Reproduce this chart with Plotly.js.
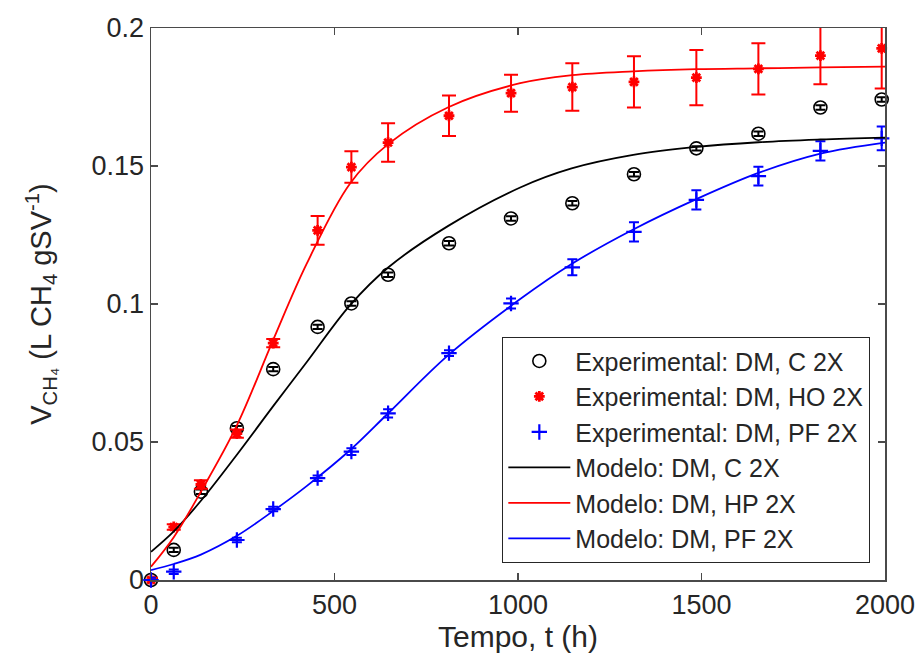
<!DOCTYPE html>
<html>
<head>
<meta charset="utf-8">
<script src="https://cdn.plot.ly/plotly-3.0.1.min.js"></script>
<style>
  html, body { margin: 0; padding: 0; background: #fff; }
  #chart { width: 922px; height: 662px; }
</style>
</head>
<body>
<div id="chart"></div>
<script>
// Sampling times of the batch measurements (h)
const expTime = [0, 62, 136, 234, 333, 454, 546, 646, 812, 981, 1148, 1316, 1486, 1655, 1824, 1991];

// Cumulative methane yield, L CH4 per g SV
const expC  = [0, 0.0109, 0.032, 0.055, 0.0764, 0.0917, 0.1002, 0.1106, 0.122, 0.131, 0.1365, 0.147, 0.1564, 0.1617, 0.1712, 0.1741];
const errC  = [0.0008, 0.0008, 0.0008, 0.0008, 0.0008, 0.0008, 0.0008, 0.0008, 0.0008, 0.0008, 0.0008, 0.0008, 0.0008, 0.0008, 0.0008, 0.0008];

const expHO = [0, 0.0192, 0.0346, 0.053, 0.0858, 0.1267, 0.1496, 0.1585, 0.1682, 0.1764, 0.1786, 0.1805, 0.182, 0.1852, 0.190, 0.1926];
const errHO = [0.0008, 0.001, 0.0015, 0.0015, 0.0015, 0.0052, 0.0057, 0.007, 0.0073, 0.0067, 0.0086, 0.0093, 0.010, 0.0093, 0.0104, 0.0145];

const expPF = [0, 0.003, null, 0.0145, 0.0257, 0.0369, 0.0465, 0.0604, 0.0822, 0.1002, 0.1133, 0.1261, 0.1377, 0.1463, 0.1555, 0.1600];
const errPF = [0.0008, 0.0008, null, 0.0008, 0.0008, 0.001, 0.0012, 0.0015, 0.001, 0.0018, 0.0029, 0.0035, 0.0035, 0.0034, 0.0035, 0.0043];

// Fitted model curves
const modelTime = [0, 62, 136, 234, 333, 424, 542, 647, 810, 1006, 1146, 1314, 1486, 1655, 1824, 2000];
const modelC  = [0.0102, 0.0176, 0.0287, 0.0454, 0.063, 0.0789, 0.0995, 0.1133, 0.1283, 0.1422, 0.1491, 0.154, 0.1569, 0.1586, 0.1596, 0.1603];
const modelHP = [0.0048, 0.0155, 0.032, 0.056, 0.087, 0.1145, 0.1436, 0.158, 0.1713, 0.18, 0.1829, 0.1843, 0.1851, 0.1854, 0.1857, 0.186];
const modelPF = [0.0036, 0.0058, 0.0092, 0.016, 0.025, 0.034, 0.047, 0.0605, 0.0815, 0.1018, 0.1145, 0.127, 0.138, 0.1475, 0.1545, 0.1585];

const names = [
  'Experimental: DM, C 2X',
  'Experimental: DM, HO 2X',
  'Experimental: DM, PF 2X',
  'Modelo: DM, C 2X',
  'Modelo: DM, HP 2X',
  'Modelo: DM, PF 2X'
];

const xTicks = [0, 500, 1000, 1500, 2000];
const xTickText = ['0', '500', '1000', '1500', '2000'];
const yTicks = [0, 0.05, 0.1, 0.15, 0.2];
const yTickText = ['0', '0.05', '0.1', '0.15', '0.2'];

const BLACK = '#000000';
const RED = '#ff0000';
const BLUE = '#0000ff';
const INK = '#262626';
const FONT = 'Liberation Sans, Arial, Helvetica, sans-serif';

function expTrace(y, err, name, color, symbol, size, lw, capw) {
  return {
    type: 'scatter', mode: 'markers', x: expTime, y: y, name: name,
    cliponaxis: false,
    marker: { symbol: symbol, size: size, color: color, line: { color: color, width: lw } },
    error_y: { type: 'data', array: err, visible: true, color: color, thickness: 2, width: capw }
  };
}
function modelTrace(y, name, color) {
  return {
    type: 'scatter', mode: 'lines', x: modelTime, y: y, name: name,
    line: { color: color, width: 1.8, shape: 'spline', smoothing: 1 }
  };
}

const data = [
  expTrace(expC, errC, names[0], BLACK, 'circle-open', 13, 1.6, 5),
  expTrace(expHO, errHO, names[1], RED, 'asterisk-open', 9, 2.8, 7),
  expTrace(expPF, errPF, names[2], BLUE, 'cross-thin-open', 11, 2.2, 5),
  modelTrace(modelC, names[3], BLACK),
  modelTrace(modelHP, names[4], RED),
  modelTrace(modelPF, names[5], BLUE)
];

const axisCommon = {
  showline: true, linecolor: '#4a4a4a', linewidth: 1.5, mirror: 'ticks',
  ticks: 'inside', ticklen: 7, tickwidth: 1.3, tickcolor: '#4a4a4a',
  showgrid: false, zeroline: false,
  tickfont: { family: FONT, size: 27, color: INK }
};

const layout = {
  width: 922, height: 662,
  margin: { l: 151, r: 37, t: 28, b: 82 },
  paper_bgcolor: '#ffffff', plot_bgcolor: '#ffffff',
  font: { family: FONT, color: INK },
  showlegend: true,
  xaxis: Object.assign({}, axisCommon, {
    range: [0, 2000], tickmode: 'array', tickvals: xTicks, ticktext: xTickText,
    title: { text: 'Tempo, t (h)', font: { family: FONT, size: 30, color: INK }, standoff: 5 }
  }),
  yaxis: Object.assign({}, axisCommon, {
    range: [0, 0.2], tickmode: 'array', tickvals: yTicks, ticktext: yTickText,
    title: { text: 'V<sub>CH₄</sub> (L CH<sub>4</sub> gSV<sup>-1</sup>)', font: { family: FONT, size: 29, color: INK }, standoff: 31 }
  }),
  legend: {
    x: 0.9796, y: 0.031, xanchor: 'right', yanchor: 'bottom',
    bgcolor: '#ffffff', bordercolor: '#262626', borderwidth: 1.3,
    font: { family: FONT, size: 25, color: INK },
    itemwidth: 62,
    traceorder: 'normal'
  }
};

Plotly.newPlot('chart', data, layout, { staticPlot: true, displayModeBar: false });
</script>
</body>
</html>
